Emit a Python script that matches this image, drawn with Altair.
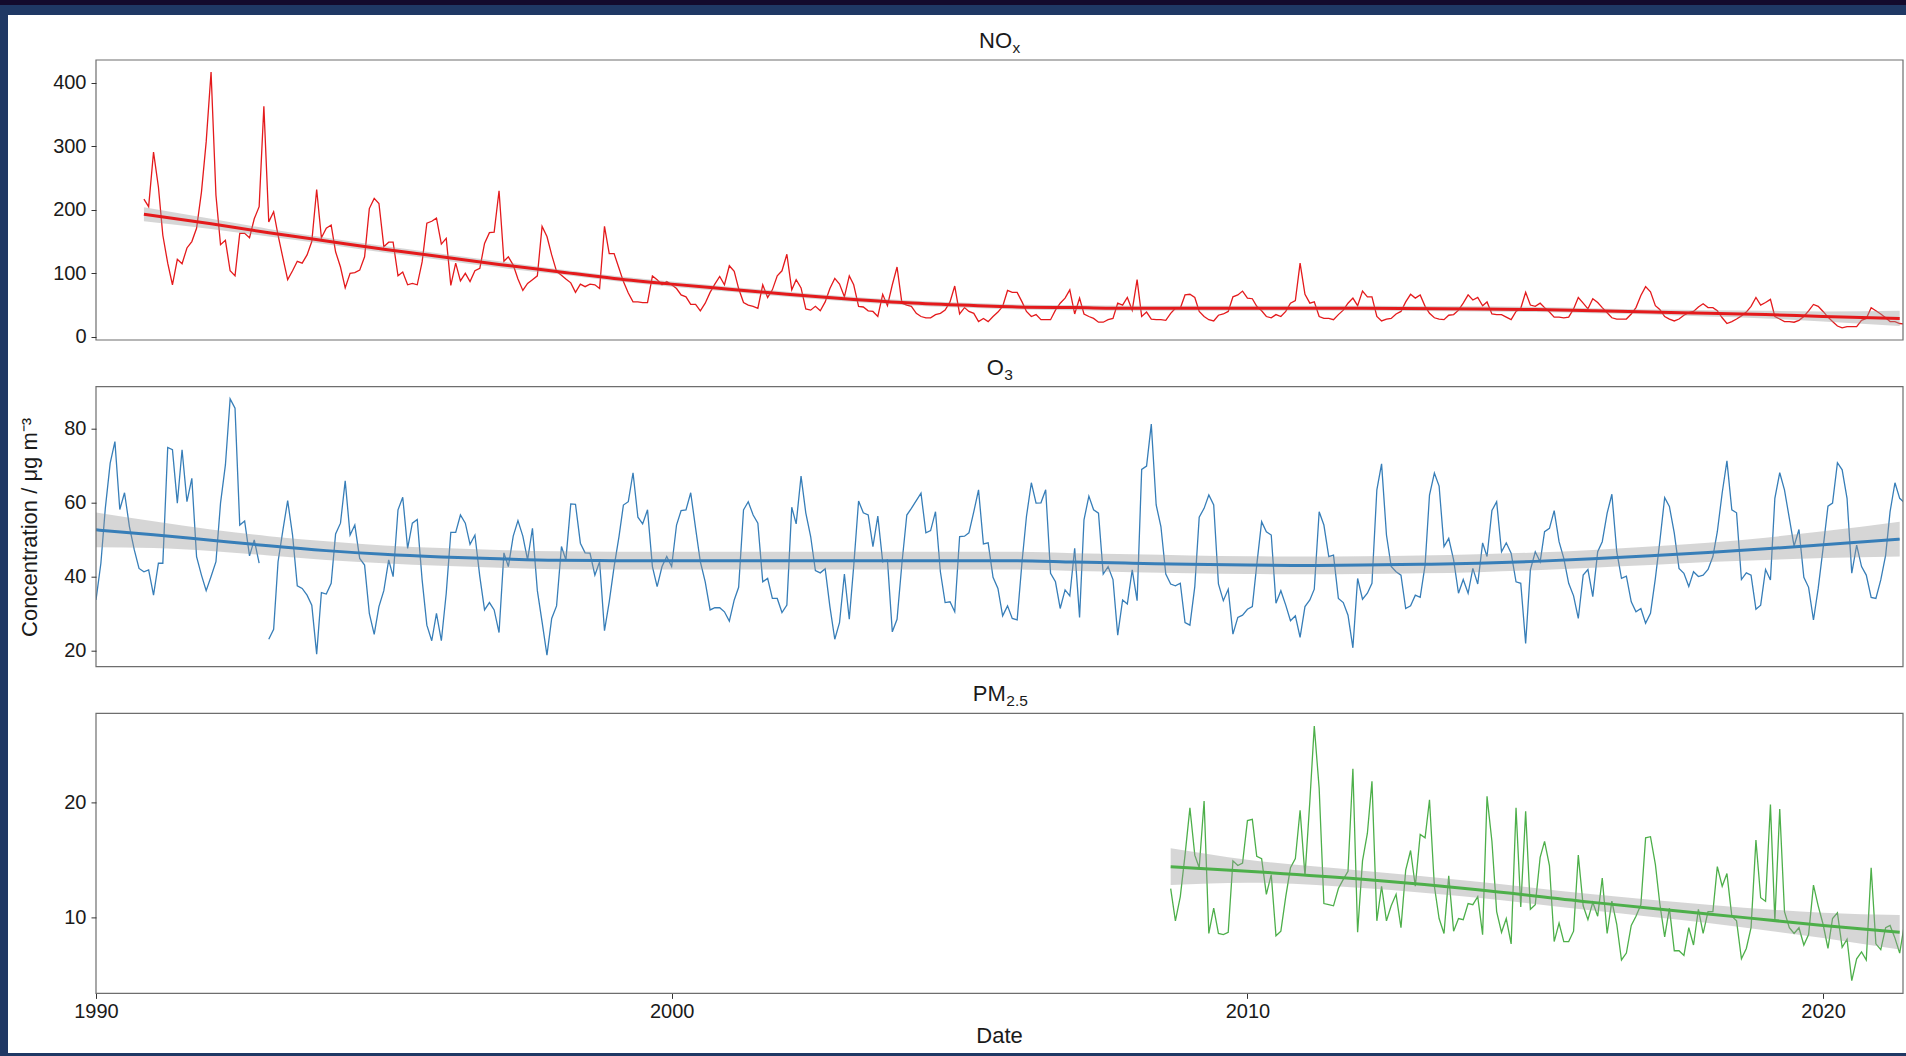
import altair as alt
import pandas as pd

# ---------------- data (monthly means) ----------------
NOX_START = "1990-11-01"
nox_values = [
    217, 205,
    291, 236, 160, 116, 82, 122, 115, 140, 150, 171, 228, 307,
    417, 223, 145, 152, 104, 96, 163, 163, 156, 186, 205, 363,
    181, 197, 160, 124, 90, 104, 119, 116, 129, 150, 232, 156,
    171, 176, 134, 110, 77, 100, 101, 105, 126, 202, 218, 210,
    142, 149, 149, 96, 102, 82, 84, 82, 118, 179, 182, 187,
    146, 155, 81, 116, 88, 100, 87, 104, 108, 147, 164, 165,
    230, 119, 126, 113, 91, 73, 84, 90, 96, 174, 158, 129,
    103, 97, 91, 85, 70, 83, 79, 83, 82, 76, 174, 131,
    131, 108, 87, 69, 55, 55, 54, 54, 96, 90, 82, 87,
    82, 76, 66, 63, 51, 51, 41, 53, 70, 83, 95, 82,
    112, 103, 76, 54, 50, 48, 45, 82, 62, 74, 96, 104,
    130, 74, 90, 77, 44, 42, 48, 41, 55, 76, 92, 83,
    63, 96, 82, 48, 47, 41, 40, 32, 67, 49, 82, 110,
    53, 50, 48, 37, 32, 30, 30, 35, 37, 42, 55, 80,
    36, 46, 40, 37, 24, 29, 24, 32, 39, 48, 73, 70,
    70, 55, 40, 32, 35, 27, 27, 27, 42, 53, 61, 74,
    36, 61, 36, 32, 29, 23, 23, 27, 29, 53, 50, 62,
    42, 90, 32, 39, 28, 27, 27, 26, 37, 45, 45, 66,
    67, 62, 40, 32, 27, 25, 34, 36, 40, 63, 66, 72,
    61, 60, 48, 41, 32, 30, 35, 32, 40, 53, 57, 116,
    67, 53, 55, 32, 29, 29, 27, 35, 42, 53, 61, 49,
    72, 63, 63, 32, 25, 28, 29, 36, 40, 55, 67, 61,
    66, 48, 37, 30, 28, 27, 34, 35, 42, 53, 66, 58,
    62, 49, 55, 36, 35, 35, 31, 27, 40, 45, 70, 50,
    48, 53, 46, 39, 31, 31, 30, 31, 44, 62, 53, 44,
    60, 54, 46, 38, 30, 28, 28, 28, 36, 46, 65, 79,
    71, 49, 43, 32, 28, 25, 28, 34, 38, 40, 47, 52,
    46, 46, 41, 30, 21, 24, 28, 33, 39, 48, 62, 50,
    54, 59, 32, 28, 24, 24, 23, 26, 32, 41, 51, 48,
    40, 31, 24, 17, 14, 16, 16, 16, 26, 29, 46, 41,
    36, 30, 24, 24, 21, 20,
]

O3_START = "1990-01-01"
o3_values = [
    33.7, 43.6, 58.4, 70.6, 76.4, 58.1, 62.6, 53.5, 47.2, 42.2, 41.3, 41.8,
    35.0, 43.6, 43.6, 74.8, 74.2, 59.8, 74.2, 60.2, 66.5, 45.4, 40.4, 36.2,
    40.0, 44.0, 59.8, 70.1, 87.9, 85.4, 53.9, 55.0, 45.6, 49.9, 43.6, None,
    23.1, 25.8, 44.0, 52.6, 60.5, 51.2, 37.5, 36.8, 35.0, 32.3, 19.1, 35.7,
    35.3, 38.2, 51.5, 54.4, 65.8, 51.2, 53.9, 44.9, 43.1, 30.1, 24.4, 31.9,
    36.2, 44.5, 40.0, 58.0, 61.4, 47.6, 54.4, 55.4, 39.1, 26.9, 22.7, 30.1,
    22.7, 35.5, 51.9, 51.9, 56.6, 54.4, 48.7, 51.2, 40.0, 31.0, 33.0, 31.0,
    24.9, 46.4, 42.7, 50.9, 55.1, 50.9, 44.5, 53.0, 36.2, 27.8, 18.8, 28.7,
    32.1, 48.1, 44.5, 59.6, 59.5, 49.0, 46.4, 46.3, 40.4, 44.0, 25.4, 33.2,
    42.7, 50.8, 59.3, 60.2, 68.0, 56.0, 54.2, 58.0, 42.7, 37.3, 42.7, 45.4,
    42.7, 53.9, 57.8, 58.0, 62.6, 53.0, 44.0, 38.6, 31.0, 31.6, 31.6, 30.5,
    28.0, 33.7, 37.1, 58.0, 60.2, 56.6, 54.4, 38.6, 39.5, 34.1, 34.1, 30.3,
    32.3, 58.7, 54.2, 67.1, 57.2, 50.8, 41.6, 41.0, 42.1, 31.9, 23.1, 27.6,
    40.7, 28.5, 42.8, 60.4, 57.2, 56.6, 48.1, 56.3, 44.0, 44.5, 25.1, 28.5,
    43.6, 56.6, 58.4, 60.5, 62.5, 51.8, 52.4, 57.5, 41.3, 33.0, 33.2, 30.5,
    50.8, 50.9, 51.8, 57.5, 63.4, 48.8, 49.1, 39.8, 36.8, 29.4, 32.1, 28.7,
    28.3, 44.0, 56.2, 65.3, 59.8, 59.9, 63.4, 40.9, 38.6, 31.4, 36.4, 34.8,
    47.6, 29.0, 55.3, 61.7, 58.0, 57.1, 40.7, 42.7, 39.2, 24.2, 33.7, 32.6,
    41.8, 33.5, 68.9, 69.8, 81.1, 59.3, 53.5, 40.7, 38.0, 37.5, 38.2, 27.6,
    26.9, 37.3, 56.0, 58.4, 62.0, 59.3, 38.0, 33.5, 36.6, 24.5, 29.0, 29.6,
    31.2, 31.9, 43.1, 54.8, 52.1, 51.2, 32.8, 36.2, 32.3, 28.1, 29.4, 23.6,
    31.9, 33.7, 36.6, 57.5, 53.9, 45.4, 45.8, 34.1, 33.0, 29.6, 20.8, 39.5,
    33.9, 35.5, 38.2, 63.4, 70.4, 51.2, 42.7, 41.3, 40.4, 31.4, 32.1, 35.0,
    34.4, 43.1, 62.0, 67.9, 64.4, 48.1, 50.3, 44.5, 35.5, 39.2, 35.5, 42.2,
    38.0, 49.1, 45.4, 57.8, 60.2, 46.7, 49.1, 46.3, 38.6, 38.2, 22.0, 41.8,
    46.7, 44.0, 52.1, 53.0, 57.8, 49.4, 44.9, 38.2, 34.8, 28.7, 40.4, 41.9,
    34.6, 46.7, 49.4, 57.1, 62.2, 46.7, 39.5, 40.1, 33.2, 30.5, 31.4, 27.4,
    30.1, 39.5, 49.4, 61.3, 58.9, 51.7, 42.2, 40.9, 37.3, 41.3, 40.0, 40.4,
    41.9, 45.4, 52.1, 62.6, 71.2, 58.0, 57.2, 39.2, 41.0, 40.4, 31.2, 32.3,
    41.9, 39.1, 61.1, 68.0, 63.4, 55.7, 48.2, 52.7, 39.8, 37.1, 28.3, 36.8,
    47.6, 59.0, 59.8, 70.7, 68.8, 61.1, 40.9, 48.5, 42.7, 40.4, 34.4, 34.1,
    39.1, 45.8, 57.5, 65.3, 61.1, 59.9,
]

PM_START = "2008-09-01"
pm_values = [
    12.5, 9.7, 11.8, 15.4,
    19.5, 15.4, 14.3, 20.1, 8.6, 10.8, 8.6, 8.5, 8.7, 14.9, 14.5, 14.7,
    18.4, 18.5, 15.3, 15.1, 12.0, 13.7, 8.4, 8.8, 11.8, 14.3, 15.1, 19.3,
    13.6, 20.1, 26.6, 21.2, 11.2, 11.1, 11.0, 12.5, 13.3, 14.0, 22.9, 8.7,
    14.9, 17.3, 21.8, 9.7, 12.7, 9.7, 11.0, 12.0, 9.1, 14.1, 15.8, 12.7,
    17.2, 16.9, 20.2, 12.7, 9.9, 8.6, 13.6, 8.8, 9.9, 9.8, 11.2, 11.1,
    11.8, 8.5, 20.5, 16.6, 10.5, 8.7, 9.9, 7.7, 19.5, 10.9, 19.2, 10.7,
    11.1, 15.2, 16.6, 14.5, 7.9, 9.5, 7.9, 7.9, 8.8, 15.4, 11.0, 9.8,
    11.3, 10.1, 13.4, 8.6, 11.4, 9.4, 6.3, 6.9, 9.3, 10.1, 11.1, 16.9,
    17.0, 14.6, 11.2, 8.3, 10.8, 7.1, 7.1, 6.7, 9.1, 7.6, 10.7, 8.6,
    10.5, 10.5, 14.4, 12.7, 13.8, 10.1, 9.7, 6.4, 7.3, 9.1, 16.7, 11.7,
    11.4, 19.8, 9.7, 19.4, 10.5, 9.1, 8.6, 9.1, 7.6, 8.5, 12.8, 11.0,
    9.4, 7.3, 9.9, 10.4, 7.4, 8.1, 4.5, 6.4, 7.0, 6.3, 14.3, 7.7,
    7.2, 9.1, 9.3, 8.2, 6.9, 9.5,
]

# smooth fits (trend line + confidence band half-width)
nox_smooth_dates = ["1990-11-01", "1992-01-01", "1993-01-01", "1994-01-01", "1995-01-01",
                    "1996-01-01", "1997-01-01", "1998-01-01", "1999-01-01", "2000-01-01",
                    "2001-01-01", "2002-01-01", "2003-01-01", "2004-01-01", "2005-01-01",
                    "2006-01-01", "2007-01-01", "2008-01-01", "2010-01-01", "2012-01-01",
                    "2014-01-01", "2015-01-01", "2016-01-01", "2017-01-01", "2018-01-01",
                    "2019-01-01", "2020-01-01", "2021-05-01"]
nox_smooth_fit = [193, 178, 164, 151, 138, 126, 114, 103, 92, 83, 75, 67, 60, 54, 50,
                  47, 46, 45, 45, 45, 44, 43, 41, 39, 37, 35, 32, 29]
nox_smooth_hw = [11, 8, 6, 5, 5, 5, 5, 4, 4, 4, 4, 4, 4, 4, 4,
                 4, 4, 4, 4, 4, 4, 4, 4, 4, 5, 6, 8, 12]

o3_smooth_dates = ["1990-01-01", "1991-01-01", "1992-01-01", "1993-01-01", "1994-01-01",
                   "1995-01-01", "1996-01-01", "1997-01-01", "1998-01-01", "1999-01-01",
                   "2003-01-01", "2006-01-01", "2007-01-01", "2008-01-01", "2009-01-01",
                   "2010-01-01", "2011-01-01", "2012-01-01", "2013-01-01", "2014-01-01",
                   "2015-01-01", "2016-01-01", "2017-01-01", "2018-01-01", "2019-01-01",
                   "2020-01-01", "2021-05-01"]
o3_smooth_fit = [52.6, 51.3, 49.8, 48.3, 47.0, 46.0, 45.3, 44.8, 44.4, 44.3,
                 44.3, 44.3, 43.9, 43.6, 43.3, 43.1, 43.0, 43.1, 43.3, 43.6,
                 44.1, 44.8, 45.6, 46.5, 47.5, 48.6, 50.1]
o3_smooth_hw = [4.7, 3.6, 2.9, 2.6, 2.5, 2.4, 2.4, 2.4, 2.4, 2.4,
                2.4, 2.4, 2.4, 2.4, 2.4, 2.4, 2.4, 2.4, 2.4, 2.4,
                2.4, 2.4, 2.5, 2.6, 3.0, 3.6, 4.7]

pm_smooth_dates = ["2008-09-01", "2010-01-01", "2012-01-01", "2014-01-01",
                   "2016-01-01", "2018-01-01", "2020-01-01", "2021-05-01"]
pm_smooth_fit = [14.4, 14.0, 13.3, 12.4, 11.3, 10.3, 9.3, 8.7]
pm_smooth_hw = [1.6, 1.0, 0.75, 0.7, 0.7, 0.8, 1.1, 1.5]

x_ticks = [1990, 2000, 2010, 2020]

# ---------------- layout / style ----------------
W = 1807
H = 280
GAP = 46.7
FONT = "Liberation Sans, Arial, Helvetica, sans-serif"
NAVY = "#1f3864"
DARK = "#130a2c"
FRAME = "#6e6e6e"
RIBBON = "#999999"


def series_df(start, values):
    df = pd.DataFrame({"date": pd.date_range(start, periods=len(values), freq="MS"),
                       "value": values})
    df["seg"] = df["value"].isna().cumsum()
    return df.dropna()


def smooth_df(dates, fit, hw):
    return pd.DataFrame({"date": pd.to_datetime(dates), "fit": fit,
                         "lo": [f - h for f, h in zip(fit, hw)],
                         "hi": [f + h for f, h in zip(fit, hw)]})


one = alt.Data(values=[{"k": 1}])

x_scale = alt.Scale(domain=[alt.DateTime(year=1990, month=1, date=1),
                            alt.DateTime(year=2021, month=5, date=22)], nice=False)


def x_enc(show_axis):
    if show_axis:
        ax = alt.Axis(values=[alt.DateTime(year=y, month=1, date=1) for y in x_ticks],
                      format="%Y", title=None, grid=False, domain=False,
                      tickSize=5, tickColor="#333333", labelPadding=3,
                      labelFontSize=20, labelColor="#1a1a1a", labelFont=FONT,
                      labelFlush=False)
    else:
        ax = None
    return alt.X("date:T", scale=x_scale, axis=ax)


def panel(series, smooth, color, ydomain, yticks, tmain, tsub,
          main_dx, first=False, show_x=False, ytitle=False):
    ys = alt.Scale(domain=ydomain, nice=False, zero=False)
    yax = alt.Axis(values=yticks, title=None, grid=False, domain=False, tickSize=5,
                   tickColor="#333333", labelPadding=5, labelFontSize=20,
                   labelColor="#1a1a1a", labelFont=FONT, zindex=1)
    layers = []
    if first:
        layers.append(alt.Chart(one).mark_rect(color=NAVY).encode(
            x=alt.value(-96), x2=alt.value(1810), y=alt.value(-60), y2=alt.value(996)))
        layers.append(alt.Chart(one).mark_rect(color=DARK).encode(
            x=alt.value(-96), x2=alt.value(1810), y=alt.value(-60), y2=alt.value(-55)))
        layers.append(alt.Chart(one).mark_rect(color="white").encode(
            x=alt.value(-88), x2=alt.value(1810), y=alt.value(-45), y2=alt.value(993)))
    layers.append(alt.Chart(series).mark_line(color=color, strokeWidth=1.3, clip=True).encode(
        x=x_enc(show_x), y=alt.Y("value:Q", scale=ys, axis=yax), detail="seg:N"))
    layers.append(alt.Chart(smooth).mark_area(color=RIBBON, opacity=0.4,
                                              interpolate="monotone", clip=True).encode(
        x=x_enc(show_x), y=alt.Y("lo:Q", scale=ys, axis=yax), y2="hi:Q"))
    layers.append(alt.Chart(smooth).mark_line(color=color, strokeWidth=3,
                                              interpolate="monotone", clip=True).encode(
        x=x_enc(show_x), y=alt.Y("fit:Q", scale=ys, axis=yax)))
    layers.append(alt.Chart(one).mark_rect(filled=False, stroke=FRAME, strokeWidth=1.2).encode(
        x=alt.value(0), x2=alt.value(W), y=alt.value(0), y2=alt.value(H)))
    cx = W / 2 + main_dx
    layers.append(alt.Chart(one).mark_text(align="right", baseline="alphabetic", fontSize=22,
                                           font=FONT, color="#1a1a1a").encode(
        x=alt.value(cx), y=alt.value(-12), text=alt.value(tmain)))
    layers.append(alt.Chart(one).mark_text(align="left", baseline="alphabetic", fontSize=15.5,
                                           font=FONT, color="#1a1a1a").encode(
        x=alt.value(cx + 0.5), y=alt.value(-7), text=alt.value(tsub)))
    if ytitle:
        layers.append(alt.Chart(one).mark_text(align="center", baseline="middle", angle=270,
                                               fontSize=22, font=FONT, color="#1a1a1a").encode(
            x=alt.value(-66), y=alt.value(140.7),
            text=alt.value("Concentration / \u03bcg m\u207b\u00b3")))
    if show_x:
        layers.append(alt.Chart(one).mark_text(align="center", baseline="middle",
                                               fontSize=22, font=FONT, color="#1a1a1a").encode(
            x=alt.value(W / 2), y=alt.value(322.6), text=alt.value("Date")))
    return alt.layer(*layers).properties(width=W, height=H)


nox = panel(series_df(NOX_START, nox_values),
            smooth_df(nox_smooth_dates, nox_smooth_fit, nox_smooth_hw),
            "#e41a1c", [-5, 436], [0, 100, 200, 300, 400], "NO", "x", 12.5, first=True)
o3 = panel(series_df(O3_START, o3_values),
           smooth_df(o3_smooth_dates, o3_smooth_fit, o3_smooth_hw),
           "#377eb8", [15.7, 91.2], [20, 40, 60, 80], "O", "3", 4.3, ytitle=True)
pm = panel(series_df(PM_START, pm_values),
           smooth_df(pm_smooth_dates, pm_smooth_fit, pm_smooth_hw),
           "#4daf4a", [3.4, 27.7], [10, 20], "PM", "2.5", 6.3, show_x=True)

chart = alt.vconcat(nox, o3, pm, spacing=GAP, bounds="flush").properties(
    padding=0, background=NAVY
).configure_view(stroke=None)

chart.save("out.html", embed_options={"renderer": "svg", "actions": False})
